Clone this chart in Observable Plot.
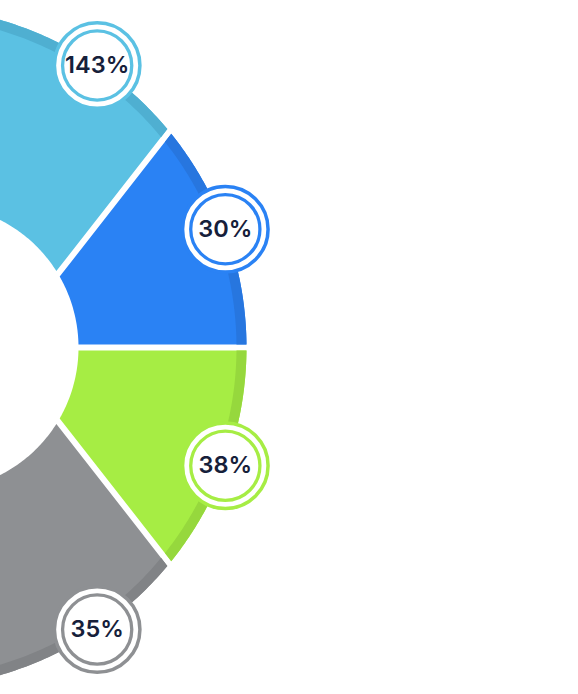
<!DOCTYPE html>
<html><head><meta charset="utf-8">
<script src="https://cdn.jsdelivr.net/npm/d3@7"></script>
<script src="https://cdn.jsdelivr.net/npm/@observablehq/plot@0.6"></script>
<style>html,body{margin:0;padding:0;background:#fff;overflow:hidden;}#chart svg{display:block;overflow:hidden;}</style>
</head><body><div id="chart"></div>
<script>
// ---- data ----
const segments = ["Segment A", "Segment B", "Segment C", "Segment D"];
const values = [143, 30, 38, 35];
const valueLabels = ["143%", "30%", "38%", "35%"];
const colors = ["#5BC1E3", "#2A82F4", "#A6ED44", "#8E9093"];
const rimColors = ["#4FAFD1", "#2776DF", "#96D83D", "#818386"];
const dividers = [52, 0, -52]; // dividing-line angles (deg) between consecutive segments

// ---- layout ----
const W = 578, H = 694;
const OUT = {cx: -95, cy: 0, r: 341};
const RIM = 10;
const IN = {cx: -65, cy: 0, r: 143};
const GAP = 3;
const labelAngles = [55.8, 20.3, -20.3, -55.8]; // badge placement along the outer edge
const rad = Math.PI / 180;

// angle (around circle centre) where a dividing line (through origin, offset s*GAP) meets circle
function meet(theta, s, c, r) {
  const d = [Math.cos(theta * rad), Math.sin(theta * rad)];
  const n = [-d[1], d[0]];
  const q = [s * GAP * n[0] - c.cx, s * GAP * n[1] - c.cy];
  const qd = q[0] * d[0] + q[1] * d[1];
  const qq = q[0] * q[0] + q[1] * q[1];
  const t = -qd + Math.sqrt(qd * qd - qq + r * r);
  const p = [q[0] + t * d[0], q[1] + t * d[1]];
  return Math.atan2(p[1], p[0]) / rad;
}
function range(i, c, r) {
  const lo = i < dividers.length ? meet(dividers[i], 1, c, r) : -100;
  const hi = i > 0 ? meet(dividers[i - 1], -1, c, r) : 100;
  return [lo, hi];
}
function arc(c, r, a, b, n = 90) {
  return d3.range(n + 1).map(k => {
    const t = (a + (b - a) * k / n) * rad;
    return {x: c.cx + r * Math.cos(t), y: c.cy + r * Math.sin(t)};
  });
}
function ring(i, c1, r1, c2, r2) {
  const [a1, b1] = range(i, c1, r1);
  const [a2, b2] = range(i, c2, r2);
  return arc(c1, r1, a1, b1).concat(arc(c2, r2, b2, a2)).map(p => ({...p, seg: segments[i]}));
}

const bodies = segments.map((s, i) => ring(i, OUT, OUT.r, IN, IN.r));
const rims = segments.map((s, i) => ring(i, OUT, OUT.r, OUT, OUT.r - RIM));

const labelRows = segments.map((s, i) => {
  const m = labelAngles[i] * rad;
  return {seg: s, value: values[i], label: valueLabels[i], color: colors[i],
          x: OUT.cx + OUT.r * Math.cos(m), y: OUT.cy + OUT.r * Math.sin(m)};
});

const marks = [];
segments.forEach((s, i) => {
  marks.push(Plot.line(bodies[i], {x: "x", y: "y", fill: colors[i], stroke: "none", curve: "linear-closed", clip: true}));
  marks.push(Plot.line(rims[i], {x: "x", y: "y", fill: rimColors[i], stroke: "none", curve: "linear-closed", clip: true}));
});
marks.push(Plot.dot(labelRows, {x: "x", y: "y", r: 42.75, fill: "white", stroke: "color", strokeWidth: 3.5}));
marks.push(Plot.dot(labelRows, {x: "x", y: "y", r: 34.6, fill: "white", stroke: "color", strokeWidth: 3.3}));
marks.push(Plot.text(labelRows, {x: "x", y: "y", text: "label", fontSize: 23.5, fontWeight: 600,
  fill: "#16203a", fontFamily: "Inter, Lato, sans-serif"}));

const chart = Plot.plot({
  width: W, height: H,
  marginTop: 0, marginRight: 0, marginBottom: 0, marginLeft: 0,
  x: {domain: [0, W], axis: null},
  y: {domain: [-H / 2, H / 2], axis: null},
  color: {type: "identity"},
  style: {background: "white", overflow: "hidden"},
  marks
});
document.getElementById("chart").appendChild(chart);
</script>
</body></html>
